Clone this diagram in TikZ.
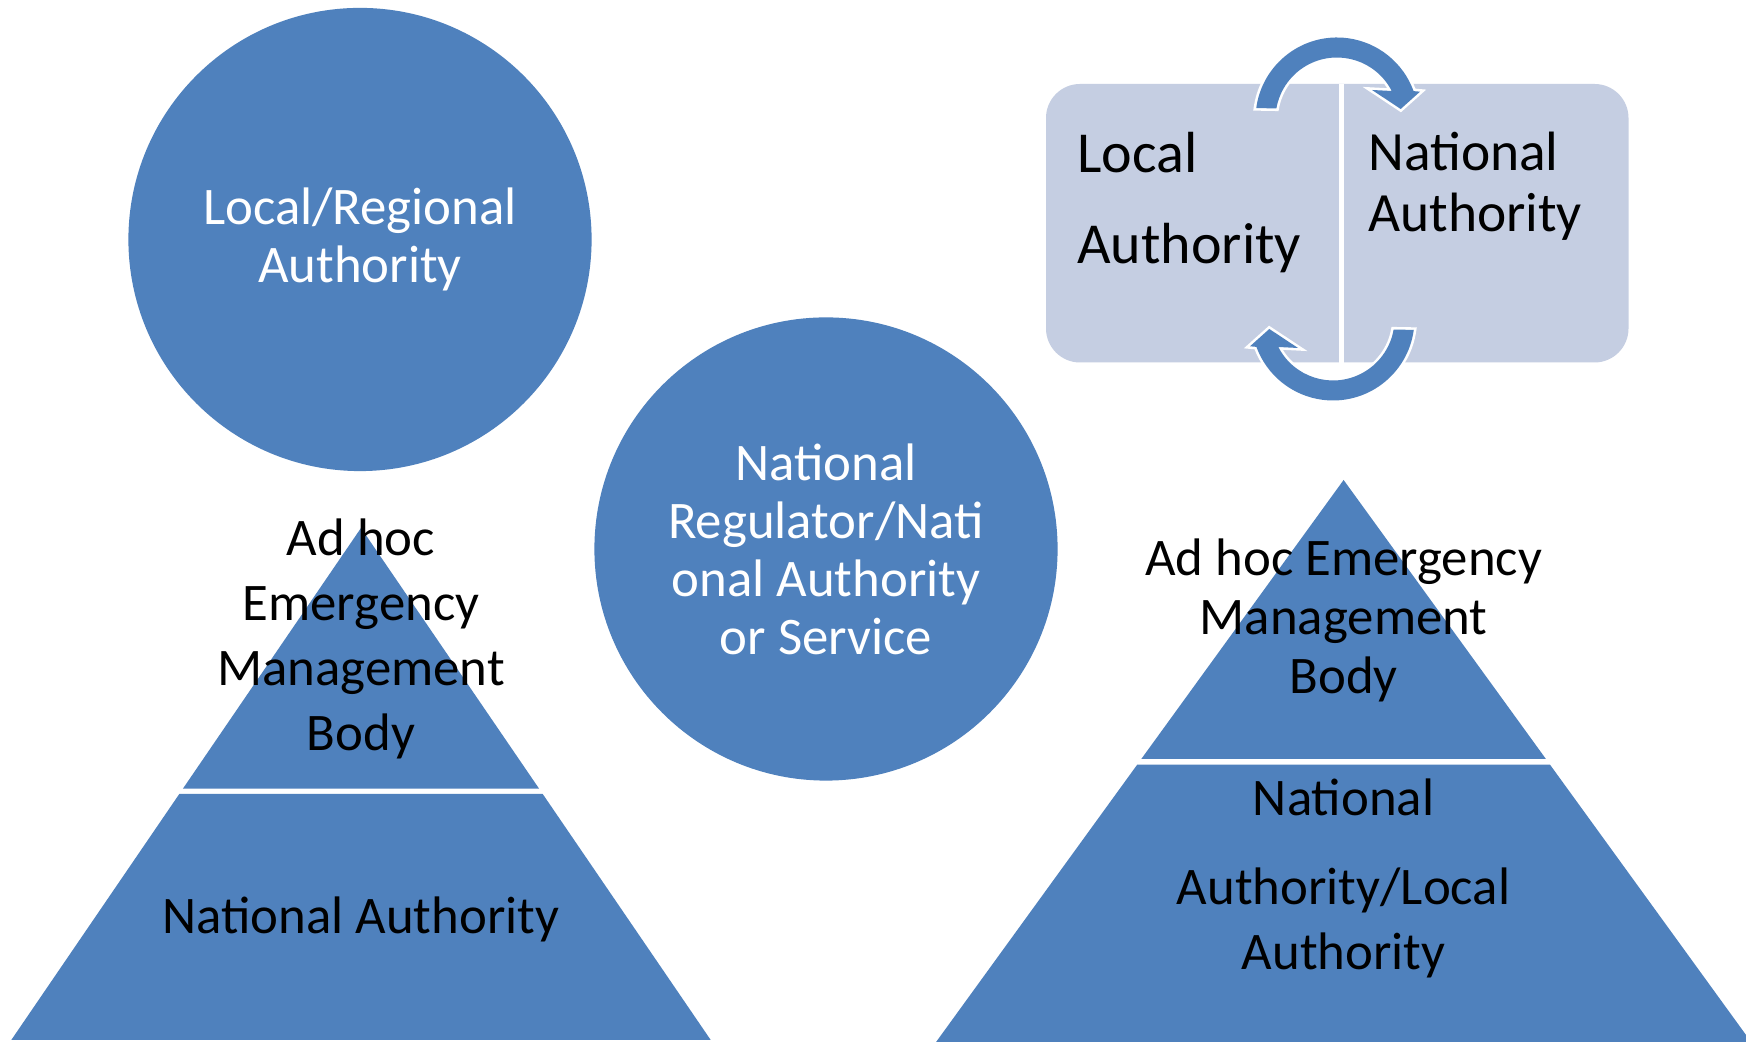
\documentclass[tikz,border=0pt]{standalone}
\usepackage{fontspec}
\setmainfont{Carlito}
\usepackage{tikz}

\definecolor{accblue}{RGB}{79,129,189}
\definecolor{paleblue}{RGB}{197,206,226}

\begin{document}
\begin{tikzpicture}[
  x=0.5pt, y=0.5pt,
  disc/.style={circle, fill=accblue, minimum size=231.6pt, inner sep=0pt, align=center,
    text=white, font=\fontsize{26.4}{29}\selectfont},
  tier/.style={fill=accblue},
  lbl/.style={align=center, inner sep=0pt, font=\fontsize{26.4}{32.6}\selectfont},
  panel/.style={fill=paleblue, rounded corners=17pt, minimum width=291.25pt, minimum height=139.25pt, inner sep=0pt},
  side/.style={align=left, anchor=west, inner sep=0pt},
  turn/.style={fill=accblue, preaction={draw=white, line width=2.6pt, line join=miter}}]
\useasboundingbox[fill=white] (0,0) rectangle (1746,1042);

% left: ad hoc body on top of the national authority
\fill[accblue] (361,514) -- (539.1,253.3) -- (182.9,253.3) -- cycle;
\fill[accblue] (179.3,248) -- (542.7,248) -- (710.7,2) -- (11.3,2) -- cycle;
\node[lbl] (adhocL) at (361,403) {Ad hoc\\Emergency\\Management\\Body};
\node[lbl] (natL) at (361,122.3) {National Authority};

% right: ad hoc body on top of national/local authority
\fill[accblue] (1343.6,562) -- (1545.9,283) -- (1141.3,283) -- cycle;
\fill[accblue] (1137.2,277.3) -- (1550,277.3) -- (1751.1,0) -- (936.1,0) -- cycle;
\node[lbl, font=\fontsize{26.4}{29.5}\selectfont] (adhocR) at (1343.6,421.3) {Ad hoc Emergency\\Management\\Body};
\node[lbl, font=\fontsize{26.4}{32.3}\selectfont] (natR) at (1343.6,163.5) {National\\[12.2pt]Authority/Local\\Authority};

% the two circles
\node[disc] (regional) at (360,802.5) {Local/Regional\\Authority};
\node[disc] (regulator) at (826,493) {National\\Regulator/Nati\\onal Authority\\or Service};

% local <-> national panel
\node[panel] (pair) at (1337.25,818.75) {};
\draw[white, line width=2.5pt] ([xshift=1.9pt]pair.north) -- ([xshift=1.9pt]pair.south);
\node[side, font=\fontsize{29}{45.5}\selectfont] (local) at (1077,839) {Local\\Authority};
\node[side, font=\fontsize{27.7}{30.5}\selectfont] (national) at (1368,855.5) {National\\Authority};

% circular arrows over and under the divider
\foreach \cx/\cy/\rot in {1337/923/0, 1333/723/180} {
  \begin{scope}[shift={(\cx,\cy)}, rotate=\rot]
    \path[turn] (172.3:81.5) arc[start angle=172.3, end angle=20, radius=81.5]
      -- (83,27.3) -- (63.7,10) -- (35,29) -- (54.7,28)
      arc[start angle=27.1, end angle=170.1, radius=61.5] -- cycle;
  \end{scope}
}
\end{tikzpicture}
\end{document}
